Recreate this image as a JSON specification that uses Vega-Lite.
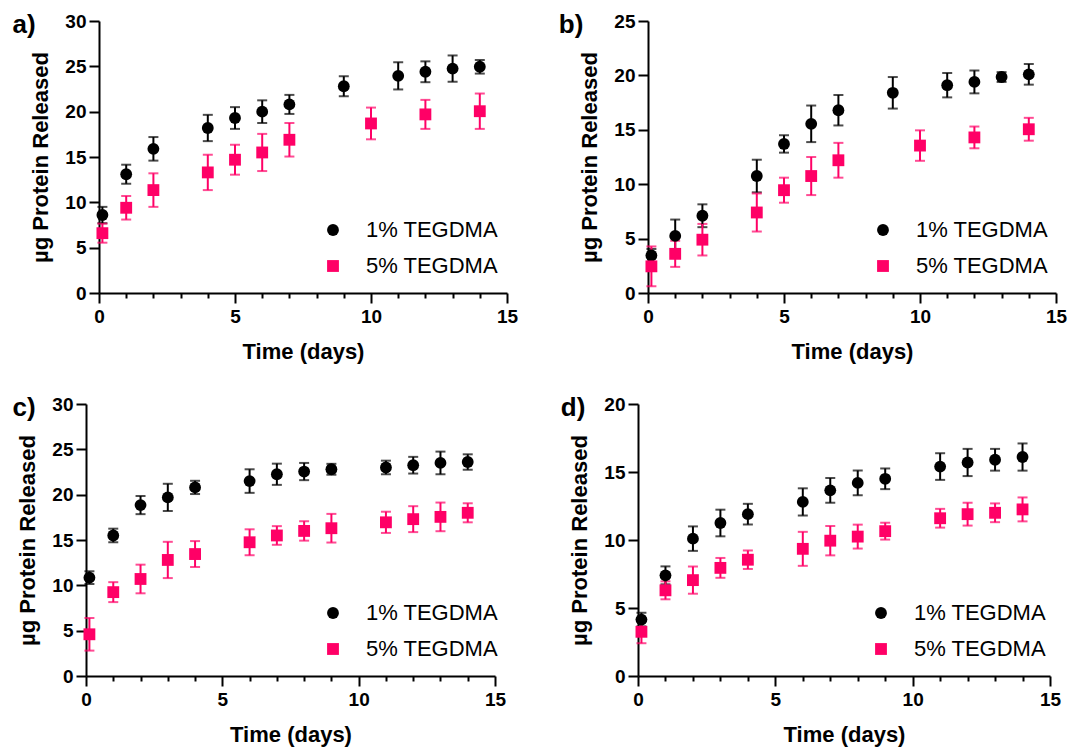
{
  "$schema": "https://vega.github.io/schema/vega-lite/v6.json",
  "padding": {"left": 12, "top": 12, "right": 2, "bottom": 5},
  "background": "white",
  "config": {
    "view": {"stroke": null},
    "font": "Liberation Sans",
    "title": {"font": "Liberation Sans", "fontSize": 26, "fontWeight": "bold", "color": "#000000", "orient": "left", "angle": 0, "anchor": "end", "frame": "bounds", "align": "right", "baseline": "top"},
    "axis": {
      "grid": false,
      "domainColor": "#000000", "domainWidth": 2,
      "tickColor": "#000000", "tickWidth": 2,
      "labelFont": "Liberation Sans", "labelFontSize": 19, "labelFontWeight": "bold", "labelColor": "#000000",
      "titleFont": "Liberation Sans", "titleFontSize": 22, "titleFontWeight": "bold", "titleColor": "#000000"
    },
    "axisX": {
      "values": [0,1,2,3,4,5,6,7,8,9,10,11,12,13,14,15],
      "labelExpr": "datum.value % 5 === 0 ? datum.label : ''",
      "tickSize": {"condition": {"test": "datum.value % 5 === 0", "value": 10}, "value": 5},
      "labelPadding": 4, "titlePadding": 15, "labelFlush": false, "labelOverlap": false
    },
    "axisY": {"tickSize": 10, "labelPadding": 3, "titlePadding": 12},
    "legend": {
      "title": null, "orient": "none", "legendX": 224, "legendY": 198,
      "labelFont": "Liberation Sans", "labelFontSize": 22, "labelColor": "#000000",
      "symbolSize": 140, "rowPadding": 14, "labelOffset": 22, "padding": 0, "symbolStrokeWidth": 0, "symbolOpacity": 1
    }
  },
  "datasets": {
    "a": [
      {"day": 0.125, "group": "1% TEGDMA", "mean": 8.6, "sd": 0.9},
      {"day": 1, "group": "1% TEGDMA", "mean": 13.1, "sd": 1.05},
      {"day": 2, "group": "1% TEGDMA", "mean": 15.9, "sd": 1.3},
      {"day": 4, "group": "1% TEGDMA", "mean": 18.2, "sd": 1.45},
      {"day": 5, "group": "1% TEGDMA", "mean": 19.3, "sd": 1.2},
      {"day": 6, "group": "1% TEGDMA", "mean": 20.0, "sd": 1.25},
      {"day": 7, "group": "1% TEGDMA", "mean": 20.8, "sd": 1.05},
      {"day": 9, "group": "1% TEGDMA", "mean": 22.8, "sd": 1.1},
      {"day": 11, "group": "1% TEGDMA", "mean": 23.95, "sd": 1.5},
      {"day": 12, "group": "1% TEGDMA", "mean": 24.4, "sd": 1.15},
      {"day": 13, "group": "1% TEGDMA", "mean": 24.75, "sd": 1.45},
      {"day": 14, "group": "1% TEGDMA", "mean": 24.95, "sd": 0.75},
      {"day": 0.125, "group": "5% TEGDMA", "mean": 6.6, "sd": 1.05},
      {"day": 1, "group": "5% TEGDMA", "mean": 9.4, "sd": 1.3},
      {"day": 2, "group": "5% TEGDMA", "mean": 11.35, "sd": 1.85},
      {"day": 4, "group": "5% TEGDMA", "mean": 13.3, "sd": 1.95},
      {"day": 5, "group": "5% TEGDMA", "mean": 14.7, "sd": 1.65},
      {"day": 6, "group": "5% TEGDMA", "mean": 15.5, "sd": 2.05},
      {"day": 7, "group": "5% TEGDMA", "mean": 16.9, "sd": 1.85},
      {"day": 10, "group": "5% TEGDMA", "mean": 18.7, "sd": 1.75},
      {"day": 12, "group": "5% TEGDMA", "mean": 19.7, "sd": 1.6},
      {"day": 14, "group": "5% TEGDMA", "mean": 20.05, "sd": 1.95}
    ],
    "b": [
      {"day": 0.125, "group": "1% TEGDMA", "mean": 3.45, "sd": 0.6},
      {"day": 1, "group": "1% TEGDMA", "mean": 5.25, "sd": 1.5},
      {"day": 2, "group": "1% TEGDMA", "mean": 7.1, "sd": 1.05},
      {"day": 4, "group": "1% TEGDMA", "mean": 10.75, "sd": 1.5},
      {"day": 5, "group": "1% TEGDMA", "mean": 13.7, "sd": 0.8},
      {"day": 6, "group": "1% TEGDMA", "mean": 15.55, "sd": 1.68},
      {"day": 7, "group": "1% TEGDMA", "mean": 16.8, "sd": 1.4},
      {"day": 9, "group": "1% TEGDMA", "mean": 18.4, "sd": 1.45},
      {"day": 11, "group": "1% TEGDMA", "mean": 19.1, "sd": 1.12},
      {"day": 12, "group": "1% TEGDMA", "mean": 19.4, "sd": 1.05},
      {"day": 13, "group": "1% TEGDMA", "mean": 19.85, "sd": 0.45},
      {"day": 14, "group": "1% TEGDMA", "mean": 20.1, "sd": 0.95},
      {"day": 0.125, "group": "5% TEGDMA", "mean": 2.45, "sd": 1.83},
      {"day": 1, "group": "5% TEGDMA", "mean": 3.6, "sd": 1.2},
      {"day": 2, "group": "5% TEGDMA", "mean": 4.9, "sd": 1.45},
      {"day": 4, "group": "5% TEGDMA", "mean": 7.4, "sd": 1.75},
      {"day": 5, "group": "5% TEGDMA", "mean": 9.45, "sd": 1.15},
      {"day": 6, "group": "5% TEGDMA", "mean": 10.75, "sd": 1.75},
      {"day": 7, "group": "5% TEGDMA", "mean": 12.2, "sd": 1.6},
      {"day": 10, "group": "5% TEGDMA", "mean": 13.55, "sd": 1.4},
      {"day": 12, "group": "5% TEGDMA", "mean": 14.3, "sd": 1.0},
      {"day": 14, "group": "5% TEGDMA", "mean": 15.05, "sd": 1.05}
    ],
    "c": [
      {"day": 0.125, "group": "1% TEGDMA", "mean": 10.85, "sd": 0.7},
      {"day": 1, "group": "1% TEGDMA", "mean": 15.5, "sd": 0.75},
      {"day": 2, "group": "1% TEGDMA", "mean": 18.85, "sd": 1.0},
      {"day": 3, "group": "1% TEGDMA", "mean": 19.7, "sd": 1.5},
      {"day": 4, "group": "1% TEGDMA", "mean": 20.8, "sd": 0.73},
      {"day": 6, "group": "1% TEGDMA", "mean": 21.5, "sd": 1.3},
      {"day": 7, "group": "1% TEGDMA", "mean": 22.25, "sd": 1.17},
      {"day": 8, "group": "1% TEGDMA", "mean": 22.55, "sd": 0.95},
      {"day": 9, "group": "1% TEGDMA", "mean": 22.8, "sd": 0.6},
      {"day": 11, "group": "1% TEGDMA", "mean": 23.0, "sd": 0.75},
      {"day": 12, "group": "1% TEGDMA", "mean": 23.25, "sd": 0.92},
      {"day": 13, "group": "1% TEGDMA", "mean": 23.5, "sd": 1.25},
      {"day": 14, "group": "1% TEGDMA", "mean": 23.6, "sd": 0.85},
      {"day": 0.125, "group": "5% TEGDMA", "mean": 4.6, "sd": 1.8},
      {"day": 1, "group": "5% TEGDMA", "mean": 9.25, "sd": 1.1},
      {"day": 2, "group": "5% TEGDMA", "mean": 10.7, "sd": 1.58},
      {"day": 3, "group": "5% TEGDMA", "mean": 12.8, "sd": 2.0},
      {"day": 4, "group": "5% TEGDMA", "mean": 13.45, "sd": 1.43},
      {"day": 6, "group": "5% TEGDMA", "mean": 14.75, "sd": 1.43},
      {"day": 7, "group": "5% TEGDMA", "mean": 15.5, "sd": 1.03},
      {"day": 8, "group": "5% TEGDMA", "mean": 16.0, "sd": 1.07},
      {"day": 9, "group": "5% TEGDMA", "mean": 16.3, "sd": 1.58},
      {"day": 11, "group": "5% TEGDMA", "mean": 16.95, "sd": 1.17},
      {"day": 12, "group": "5% TEGDMA", "mean": 17.3, "sd": 1.43},
      {"day": 13, "group": "5% TEGDMA", "mean": 17.55, "sd": 1.58},
      {"day": 14, "group": "5% TEGDMA", "mean": 18.0, "sd": 1.05}
    ],
    "d": [
      {"day": 0.125, "group": "1% TEGDMA", "mean": 4.15, "sd": 0.5},
      {"day": 1, "group": "1% TEGDMA", "mean": 7.4, "sd": 0.66},
      {"day": 2, "group": "1% TEGDMA", "mean": 10.1, "sd": 0.9},
      {"day": 3, "group": "1% TEGDMA", "mean": 11.25, "sd": 0.98},
      {"day": 4, "group": "1% TEGDMA", "mean": 11.9, "sd": 0.76},
      {"day": 6, "group": "1% TEGDMA", "mean": 12.8, "sd": 1.0},
      {"day": 7, "group": "1% TEGDMA", "mean": 13.65, "sd": 0.91},
      {"day": 8, "group": "1% TEGDMA", "mean": 14.2, "sd": 0.91},
      {"day": 9, "group": "1% TEGDMA", "mean": 14.5, "sd": 0.76},
      {"day": 11, "group": "1% TEGDMA", "mean": 15.4, "sd": 0.98},
      {"day": 12, "group": "1% TEGDMA", "mean": 15.7, "sd": 1.0},
      {"day": 13, "group": "1% TEGDMA", "mean": 15.9, "sd": 0.8},
      {"day": 14, "group": "1% TEGDMA", "mean": 16.1, "sd": 1.0},
      {"day": 0.125, "group": "5% TEGDMA", "mean": 3.25, "sd": 0.84},
      {"day": 1, "group": "5% TEGDMA", "mean": 6.3, "sd": 0.66},
      {"day": 2, "group": "5% TEGDMA", "mean": 7.05, "sd": 1.0},
      {"day": 3, "group": "5% TEGDMA", "mean": 7.95, "sd": 0.73},
      {"day": 4, "group": "5% TEGDMA", "mean": 8.55, "sd": 0.68},
      {"day": 6, "group": "5% TEGDMA", "mean": 9.35, "sd": 1.25},
      {"day": 7, "group": "5% TEGDMA", "mean": 9.95, "sd": 1.08},
      {"day": 8, "group": "5% TEGDMA", "mean": 10.25, "sd": 0.88},
      {"day": 9, "group": "5% TEGDMA", "mean": 10.65, "sd": 0.62},
      {"day": 11, "group": "5% TEGDMA", "mean": 11.6, "sd": 0.69},
      {"day": 12, "group": "5% TEGDMA", "mean": 11.9, "sd": 0.84},
      {"day": 13, "group": "5% TEGDMA", "mean": 12.0, "sd": 0.69},
      {"day": 14, "group": "5% TEGDMA", "mean": 12.25, "sd": 0.88}
    ]
  },
  "spacing": 33,
  "resolve": {"scale": {"color": "independent", "shape": "independent"}, "legend": {"color": "independent", "shape": "independent"}},
  "vconcat": [
    {
      "spacing": 40,
      "resolve": {"scale": {"color": "independent", "shape": "independent"}, "legend": {"color": "independent", "shape": "independent"}},
      "hconcat": [
        {
          "width": 421, "height": 272,
          "title": {"text": "a)", "dx": 33},
          "data": {"name": "a"},
          "encoding": {
            "x": {"field": "day", "type": "quantitative", "scale": {"domain": [0, 15], "nice": false, "range": [13, 421]}, "axis": {"title": "Time (days)"}},
            "y": {"field": "mean", "type": "quantitative", "scale": {"domain": [0, 30], "nice": false}, "axis": {"values": [0, 5, 10, 15, 20, 25, 30], "title": "µg Protein Released", "offset": -13}},
            "color": {"field": "group", "type": "nominal", "scale": {"domain": ["1% TEGDMA", "5% TEGDMA"], "range": ["#000000", "#FF0066"]}, "legend": {"title": null, "legendX": 236}}
          },
          "layer": [
            {"mark": {"type": "errorbar", "ticks": {"size": 10}, "thickness": 2}, "encoding": {"yError": {"field": "sd"}}},
            {"mark": {"type": "point", "filled": true, "size": 140, "opacity": 1}, "encoding": {"shape": {"field": "group", "type": "nominal", "scale": {"domain": ["1% TEGDMA", "5% TEGDMA"], "range": ["circle", "square"]}, "legend": {"title": null, "legendX": 236}}}}
          ]
        },
        {
          "width": 408, "height": 272,
          "title": {"text": "b)", "dx": 33},
          "data": {"name": "b"},
          "encoding": {
            "x": {"field": "day", "type": "quantitative", "scale": {"domain": [0, 15], "nice": false}, "axis": {"title": "Time (days)"}},
            "y": {"field": "mean", "type": "quantitative", "scale": {"domain": [0, 25], "nice": false}, "axis": {"values": [0, 5, 10, 15, 20, 25], "title": "µg Protein Released"}},
            "color": {"field": "group", "type": "nominal", "scale": {"domain": ["1% TEGDMA", "5% TEGDMA"], "range": ["#000000", "#FF0066"]}, "legend": {"title": null, "legendX": 224}}
          },
          "layer": [
            {"mark": {"type": "errorbar", "ticks": {"size": 10}, "thickness": 2}, "encoding": {"yError": {"field": "sd"}}},
            {"mark": {"type": "point", "filled": true, "size": 140, "opacity": 1}, "encoding": {"shape": {"field": "group", "type": "nominal", "scale": {"domain": ["1% TEGDMA", "5% TEGDMA"], "range": ["circle", "square"]}, "legend": {"title": null, "legendX": 224}}}}
          ]
        }
      ]
    },
    {
      "spacing": 54,
      "resolve": {"scale": {"color": "independent", "shape": "independent"}, "legend": {"color": "independent", "shape": "independent"}},
      "hconcat": [
        {
          "width": 409, "height": 272,
          "title": {"text": "c)", "dx": 46},
          "data": {"name": "c"},
          "encoding": {
            "x": {"field": "day", "type": "quantitative", "scale": {"domain": [0, 15], "nice": false}, "axis": {"title": "Time (days)"}},
            "y": {"field": "mean", "type": "quantitative", "scale": {"domain": [0, 30], "nice": false}, "axis": {"values": [0, 5, 10, 15, 20, 25, 30], "title": "µg Protein Released"}},
            "color": {"field": "group", "type": "nominal", "scale": {"domain": ["1% TEGDMA", "5% TEGDMA"], "range": ["#000000", "#FF0066"]}, "legend": {"title": null, "legendX": 236}}
          },
          "layer": [
            {"mark": {"type": "errorbar", "ticks": {"size": 10}, "thickness": 2}, "encoding": {"yError": {"field": "sd"}}},
            {"mark": {"type": "point", "filled": true, "size": 140, "opacity": 1}, "encoding": {"shape": {"field": "group", "type": "nominal", "scale": {"domain": ["1% TEGDMA", "5% TEGDMA"], "range": ["circle", "square"]}, "legend": {"title": null, "legendX": 236}}}}
          ]
        },
        {
          "width": 412, "height": 272,
          "title": {"text": "d)", "dx": 45},
          "data": {"name": "d"},
          "encoding": {
            "x": {"field": "day", "type": "quantitative", "scale": {"domain": [0, 15], "nice": false}, "axis": {"title": "Time (days)"}},
            "y": {"field": "mean", "type": "quantitative", "scale": {"domain": [0, 20], "nice": false}, "axis": {"values": [0, 5, 10, 15, 20], "title": "µg Protein Released"}},
            "color": {"field": "group", "type": "nominal", "scale": {"domain": ["1% TEGDMA", "5% TEGDMA"], "range": ["#000000", "#FF0066"]}, "legend": {"title": null, "legendX": 232}}
          },
          "layer": [
            {"mark": {"type": "errorbar", "ticks": {"size": 10}, "thickness": 2}, "encoding": {"yError": {"field": "sd"}}},
            {"mark": {"type": "point", "filled": true, "size": 140, "opacity": 1}, "encoding": {"shape": {"field": "group", "type": "nominal", "scale": {"domain": ["1% TEGDMA", "5% TEGDMA"], "range": ["circle", "square"]}, "legend": {"title": null, "legendX": 232}}}}
          ]
        }
      ]
    }
  ]
}
